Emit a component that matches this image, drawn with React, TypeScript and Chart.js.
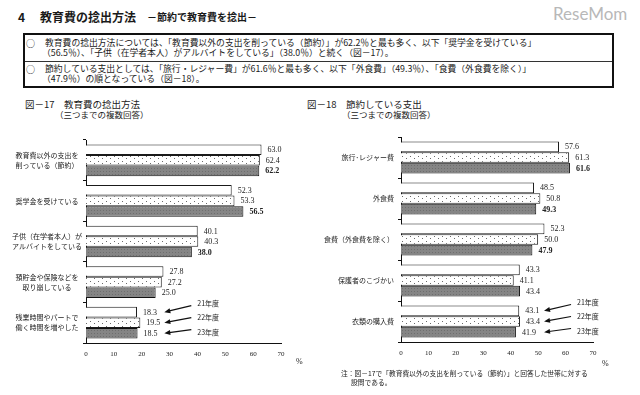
import React, { useEffect, useRef } from "react";
import { Chart, registerables } from "chart.js";
Chart.register(...registerables);

const years = ["21年度", "22年度", "23年度"];

const leftCategories = [
  ["教育費以外の支出を", "削っている（節約）"],
  ["奨学金を受けている"],
  ["子供（在学者本人）が", "アルバイトをしている"],
  ["預貯金や保険などを", "取り崩している"],
  ["残業時間やパートで", "働く時間を増やした"],
];
const left21 = [63.0, 52.3, 40.1, 27.8, 18.3];
const left22 = [62.4, 53.3, 40.3, 27.2, 19.5];
const left23 = [62.2, 56.5, 38.0, 25.0, 18.5];

const rightCategories = [
  "旅行･レジャー費",
  "外食費",
  "食費（外食費を除く）",
  "保護者のこづかい",
  "衣類の購入費",
];
const right21 = [57.6, 48.5, 52.3, 43.3, 43.1];
const right22 = [61.3, 50.8, 50.0, 41.1, 43.4];
const right23 = [61.6, 49.3, 47.9, 43.4, 41.9];

const xMin = 0;
const xMax = 70;
const xStep = 10;

const SERIF = '"Liberation Serif", "DejaVu Serif", serif';
const JP = '"Noto Sans CJK JP", "Noto Sans", sans-serif';

function makeDotPattern(ctx: CanvasRenderingContext2D) {
  const c = document.createElement("canvas");
  c.width = 8;
  c.height = 5;
  const g = c.getContext("2d")!;
  g.fillStyle = "#ffffff";
  g.fillRect(0, 0, 8, 5);
  g.fillStyle = "#6a6a6a";
  g.fillRect(2, 1, 1, 1);
  g.fillRect(6, 3, 1, 1);
  return ctx.createPattern(c, "repeat")!;
}

function makeGrayPattern(ctx: CanvasRenderingContext2D) {
  const c = document.createElement("canvas");
  c.width = 3;
  c.height = 3;
  const g = c.getContext("2d")!;
  g.fillStyle = "#858585";
  g.fillRect(0, 0, 3, 3);
  g.fillStyle = "#6e6e6e";
  g.fillRect(1, 1, 1, 1);
  return ctx.createPattern(c, "repeat")!;
}

const valueLabelPlugin = {
  id: "valueLabels",
  afterDatasetsDraw(chart: any) {
    const ctx = chart.ctx;
    ctx.save();
    ctx.textAlign = "left";
    ctx.textBaseline = "middle";
    ctx.fillStyle = "#222";
    chart.data.datasets.forEach((ds: any, di: number) => {
      const meta = chart.getDatasetMeta(di);
      meta.data.forEach((el: any, i: number) => {
        const bold = di === 2 && i < 3;
        ctx.font = `${bold ? "bold " : ""}8px ${SERIF}`;
        ctx.fillText(ds.data[i].toFixed(1), el.x + 6, el.y + 0.5);
      });
    });
    ctx.restore();
  },
};

const arrowPlugin = {
  id: "yearArrows",
  afterDatasetsDraw(chart: any) {
    const ctx = chart.ctx;
    const n = chart.data.labels.length - 1;
    ctx.save();
    ctx.font = `8px ${SERIF}`;
    let maxEnd = 0;
    chart.data.datasets.forEach((ds: any, di: number) => {
      const el = chart.getDatasetMeta(di).data[n];
      maxEnd = Math.max(maxEnd, el.x + 6 + ctx.measureText(ds.data[n].toFixed(1)).width);
    });
    const tipX = maxEnd + 4;
    const midY = chart.getDatasetMeta(1).data[n].y;
    chart.data.datasets.forEach((ds: any, di: number) => {
      const el = chart.getDatasetMeta(di).data[n];
      const tipY = el.y;
      const tailX = tipX + 27;
      const tailY = midY - 5 + (di - 1) * 12;
      const labelY = midY - 5 + (di - 1) * 14.5;
      const ang = Math.atan2(tipY - tailY, tipX - tailX);
      ctx.strokeStyle = "#111";
      ctx.fillStyle = "#111";
      ctx.lineWidth = 1.2;
      ctx.beginPath();
      ctx.moveTo(tailX, tailY);
      ctx.lineTo(tipX + 3 * Math.cos(ang + Math.PI), tipY + 3 * Math.sin(ang + Math.PI));
      ctx.stroke();
      const L = 6, W = 2.5;
      ctx.beginPath();
      ctx.moveTo(tipX, tipY);
      ctx.lineTo(tipX - L * Math.cos(ang) + W * Math.sin(ang), tipY - L * Math.sin(ang) - W * Math.cos(ang));
      ctx.lineTo(tipX - L * Math.cos(ang) - W * Math.sin(ang), tipY - L * Math.sin(ang) + W * Math.cos(ang));
      ctx.closePath();
      ctx.fill();
      ctx.font = `7px ${JP}`;
      ctx.fillStyle = "#222";
      ctx.textAlign = "left";
      ctx.textBaseline = "middle";
      ctx.fillText(years[di], tailX + 6, labelY);
    });
    ctx.restore();
  },
};

function buildConfig(
  ctx: CanvasRenderingContext2D,
  labels: any[],
  d21: number[],
  d22: number[],
  d23: number[],
  pad: { top: number; right: number },
  yWidth: number,
  xHeight: number,
  crossAlign: "center" | "near",
  tickPad: number
): any {
  return {
    type: "bar",
    data: {
      labels,
      datasets: [
        { label: years[0], data: d21, backgroundColor: "#ffffff", borderColor: "#1a1a1a", borderWidth: 1 },
        { label: years[1], data: d22, backgroundColor: makeDotPattern(ctx), borderColor: "#1a1a1a", borderWidth: 1 },
        { label: years[2], data: d23, backgroundColor: makeGrayPattern(ctx), borderColor: "#111", borderWidth: 1 },
      ],
    },
    options: {
      indexAxis: "y",
      responsive: false,
      animation: false,
      events: [],
      layout: { padding: { top: pad.top, right: pad.right, bottom: 0, left: 0 } },
      datasets: { bar: { categoryPercentage: 0.78, barPercentage: 1.0 } },
      plugins: { legend: { display: false }, tooltip: { enabled: false } },
      scales: {
        x: {
          min: xMin,
          max: xMax,
          ticks: { stepSize: xStep, font: { size: 7, family: SERIF }, color: "#222", padding: 7, maxRotation: 0 },
          grid: { display: false, drawTicks: false },
          border: { display: true, color: "#111", width: 1 },
          afterFit: (s: any) => {
            s.height = xHeight;
          },
        },
        y: {
          grid: { display: true, drawOnChartArea: false, drawTicks: true, tickLength: 3, offset: true, color: "#111", lineWidth: 1 },
          border: { display: true, color: "#111", width: 1 },
          ticks: {
            autoSkip: false,
            crossAlign,
            padding: tickPad,
            font: { size: 7, family: JP, lineHeight: 1.45 },
            color: "#222",
          },
          afterFit: (s: any) => {
            s.width = yWidth;
          },
        },
      },
    },
    plugins: [valueLabelPlugin, arrowPlugin],
  };
}

function T(props: { x: number; y: number; size: number; bold?: boolean; color?: string; family?: string; children: any }) {
  return (
    <div
      style={{
        position: "absolute",
        left: props.x,
        top: props.y - props.size / 2,
        fontSize: props.size,
        lineHeight: `${props.size}px`,
        fontWeight: props.bold ? "bold" : "normal",
        whiteSpace: "nowrap",
        color: props.color || "#1a1a1a",
        fontFamily: props.family || JP,
      }}
    >
      {props.children}
    </div>
  );
}

export default function App() {
  const leftRef = useRef<HTMLCanvasElement>(null);
  const rightRef = useRef<HTMLCanvasElement>(null);

  useEffect(() => {
    const lc = leftRef.current!.getContext("2d")!;
    const rc = rightRef.current!.getContext("2d")!;
    const left = new Chart(lc, buildConfig(lc, leftCategories, left21, left22, left23, { top: 15, right: 34 }, 86, 32, "center", 1));
    const right = new Chart(rc, buildConfig(rc, rightCategories, right21, right22, right23, { top: 12, right: 47 }, 81, 28, "near", 4));
    return () => {
      left.destroy();
      right.destroy();
    };
  }, []);

  return (
    <div style={{ position: "absolute", left: 0, top: 0, width: 640, height: 395, background: "#fff", overflow: "hidden", fontFamily: JP }}>
      <T x={553} y={13} size={17} color="#b8b8b8" family='"Lato", "DejaVu Sans", sans-serif'>ReseMom</T>

      <T x={18} y={17} size={12} bold>4</T>
      <T x={40} y={17} size={12} bold>教育費の捻出方法</T>
      <T x={147} y={17} size={10} bold>－節約で教育費を捻出－</T>

      <div style={{ position: "absolute", left: 23, top: 33, width: 587, height: 51, border: "2px solid #111" }} />
      <div style={{ position: "absolute", left: 25, top: 61, width: 587, height: 1, background: "#333" }} />
      <T x={26} y={43} size={9}>○</T>
      <T x={45} y={43} size={8.8}>教育費の捻出方法については、「教育費以外の支出を削っている（節約）」が62.2％と最も多く、以下「奨学金を受けている」</T>
      <T x={42} y={53} size={8.8}>（56.5％）、「子供（在学者本人）がアルバイトをしている」（38.0％）と続く（図－17）。</T>
      <T x={26} y={69} size={9}>○</T>
      <T x={45} y={69} size={8.8}>節約している支出としては、「旅行・レジャー費」が61.6％と最も多く、以下「外食費」（49.3％）、「食費（外食費を除く）」</T>
      <T x={42} y={79} size={8.8}>（47.9％）の順となっている（図－18）。</T>

      <T x={25} y={105} size={9.5}>図－17　教育費の捻出方法</T>
      <T x={55} y={114} size={8.5}>（三つまでの複数回答）</T>
      <T x={307} y={105} size={9.5}>図－18　節約している支出</T>
      <T x={342} y={114} size={8.5}>（三つまでの複数回答）</T>

      <canvas ref={leftRef} width={315} height={250} style={{ position: "absolute", left: 0, top: 125, width: 315, height: 250 }} />
      <canvas ref={rightRef} width={320} height={245} style={{ position: "absolute", left: 320, top: 125, width: 320, height: 245 }} />

      <T x={296} y={362} size={8} family={SERIF}>%</T>
      <T x={602} y={364} size={8} family={SERIF}>%</T>

      <T x={341} y={373} size={6.75}>注：図－17で「教育費以外の支出を削っている（節約）」と回答した世帯に対する</T>
      <T x={351} y={382} size={6.75}>設問である。</T>
    </div>
  );
}
